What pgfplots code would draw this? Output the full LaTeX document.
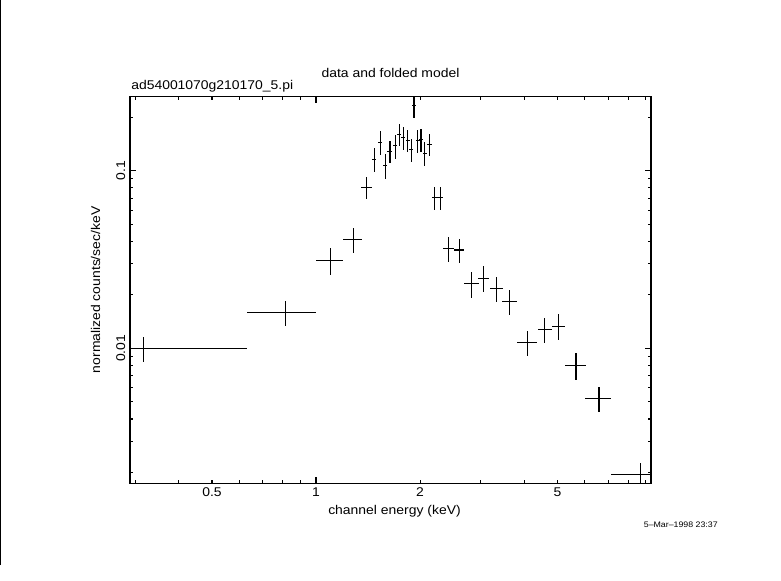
\documentclass[border=0pt]{standalone}
\usepackage{fontspec}
\setmainfont{Liberation Sans}[FakeStretch=1.1]
\usepackage{pgfplots}
\pgfplotsset{compat=1.18}

% x, y, half bin width, error on y
\pgfplotstableread{
x      y        ex      ey
0.316  0.0100   0.315   0.00162
0.816  0.0159   0.185   0.0026
1.10   0.0313   0.100   0.0053
1.281  0.0411   0.081   0.0066
1.404  0.0806   0.052   0.0116
1.475  0.1159   0.020   0.018
1.532  0.1445   0.025   0.022
1.584  0.1073   0.025   0.0175
1.637  0.1286   0.027   0.0185
1.696  0.1382   0.025   0.0215
1.742  0.1603   0.023   0.0228
1.789  0.1534   0.024   0.0218
1.842  0.1489   0.025   0.0218
1.884  0.1313   0.020   0.019
1.921  0.2334   0.020   0.035
1.970  0.1475   0.025   0.0218
2.013  0.1502   0.022   0.022
2.064  0.1253   0.027   0.019
2.128  0.1413   0.035   0.020
2.208  0.0706   0.045   0.0105
2.290  0.0706   0.045   0.0105
2.420  0.0366   0.084   0.0058
2.594  0.0358   0.090   0.0057
2.820  0.0231   0.135   0.0038
3.060  0.0248   0.117   0.0041
3.339  0.02185  0.145   0.0035
3.636  0.0183   0.172   0.0029
4.095  0.0108   0.270   0.0017
4.595  0.0128   0.220   0.0021
5.037  0.01335  0.220   0.0022
5.653  0.00802  0.390   0.00135
6.590  0.00523  0.570   0.00083
8.665  0.00196  1.520   0.0003
}\spectrum

\begin{document}
\begin{tikzpicture}
\begin{axis}[
    scale only axis,
    width=390.75pt, height=289.9pt,
    xmode=log, ymode=log,
    xmin=0.2895, xmax=9.32,
    ymin=0.001744, ymax=0.2617,
    axis line style={line width=0.8pt},
    tick style={black, line width=0.8pt},
    tick align=inside,
    major tick length=4.5pt, minor tick length=2.5pt,
    xtick={1}, xticklabels={1},
    extra x ticks={0.5,2,5}, extra x tick labels={0.5,2,5},
    extra x tick style={major tick length=2.5pt},
    minor xtick={0.3,0.4,0.6,0.7,0.8,0.9,3,4,6,7,8,9},
    ytick={0.01,0.1}, yticklabels={0.01,0.1},
    minor ytick={0.002,0.003,0.004,0.005,0.006,0.007,0.008,0.009,
                 0.02,0.03,0.04,0.05,0.06,0.07,0.08,0.09,0.2},
    /pgf/number format/assume math mode=true,
    ticklabel style={font=\fontsize{9.5}{11}\selectfont},
    yticklabel style={rotate=90, anchor=south},
]
    % crosses only: no line, no marker, just the error bars
    \addplot[draw=none, mark=none,
        error bars/.cd, x dir=both, x explicit, y dir=both, y explicit,
        error mark=none, error bar style={draw=black, line width=0.8pt}]
        table[x=x, y=y, x error=ex, y error=ey] {\spectrum};
\end{axis}

\coordinate (SW) at ([xshift=-97.5pt, yshift=-72.75pt]current axis.south west);
\coordinate (NE) at ([xshift=97.5pt, yshift=72.4pt]current axis.north east);

\node[font=\fontsize{9.5}{11}\selectfont, anchor=base]
    at ([yshift=14.6pt]current axis.north) {data and folded model};
\node[font=\fontsize{9.5}{11}\selectfont, anchor=base west, inner sep=0pt]
    at ([xshift=0.75pt, yshift=4.9pt]current axis.north west) {ad54001070g210170\_5.pi};
\node[font=\fontsize{9.5}{11}\selectfont, anchor=base, inner sep=0pt]
    at ([xshift=3pt, yshift=-23.25pt]current axis.south) {channel energy (keV)};
\node[font=\fontsize{9.5}{11}\selectfont, anchor=base, rotate=90, inner sep=0pt]
    at ([xshift=-22.5pt]current axis.west) {normalized counts/sec/keV};
\node[font=\fontsize{6}{7}\selectfont, anchor=base east, inner sep=0pt]
    at ([xshift=50.25pt, yshift=-33pt]current axis.south east) {5--Mar--1998 23:37};

\draw[line width=0.75pt] ([xshift=0.375pt, yshift=11.25pt]SW) -- ([xshift=0.375pt]SW |- NE);

\pgfresetboundingbox
\useasboundingbox (SW) rectangle (NE);
\end{tikzpicture}
\end{document}
